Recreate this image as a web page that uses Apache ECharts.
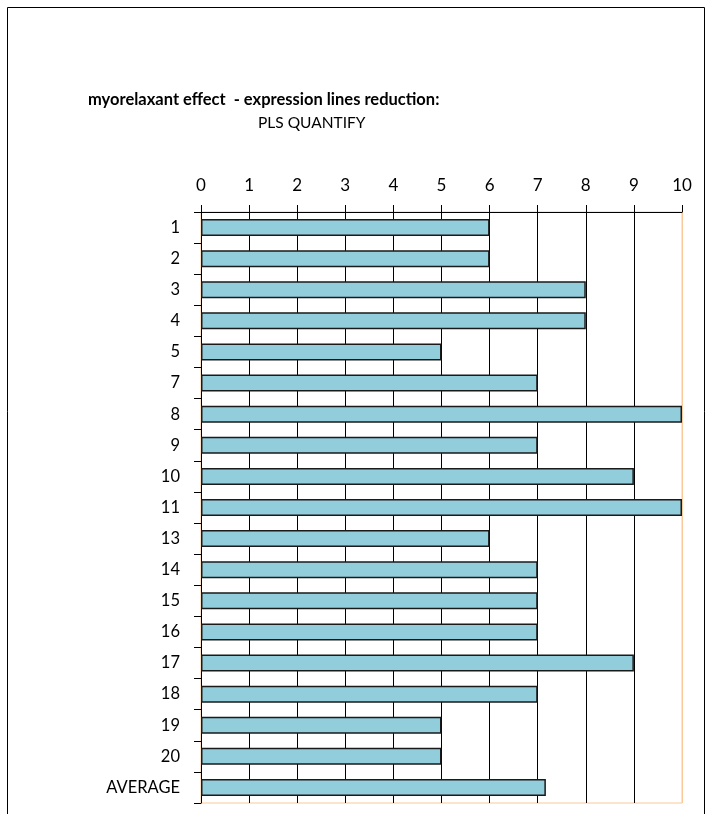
<!DOCTYPE html>
<html><head><meta charset="utf-8">
<script src="https://cdn.jsdelivr.net/npm/echarts@6/dist/echarts.min.js"></script>
<style>html,body{margin:0;padding:0;background:#fff}#c{width:707px;height:814px}</style>
</head><body><div id="c"></div>
<script>
const categories = ['1','2','3','4','5','7','8','9','10','11','13','14','15','16','17','18','19','20','AVERAGE'];
const values = [6,6,8,8,5,7,10,7,9,10,6,7,7,7,9,7,5,5,7.17];
const xTicks = [0,1,2,3,4,5,6,7,8,9,10];
const titleText = 'myorelaxant effect  - expression lines reduction:';
const subtitleText = 'PLS QUANTIFY';

const font = 'Lato, "Liberation Sans", sans-serif';
const chart = echarts.init(document.getElementById('c'), null, {renderer:'canvas'});
const splitColors = xTicks.map((t,i)=> i===xTicks.length-1 ? '#F9C89B' : '#000');
chart.setOption({
  animation:false,
  backgroundColor:'#fff',
  graphic:[{type:'rect', shape:{x:7.5,y:7.5,width:697,height:830}, style:{fill:'none',stroke:'#000',lineWidth:1}, z:-10}],
  title:[
    {text:titleText, left:88, top:91, textStyle:{fontFamily:font,fontWeight:'bold',fontSize:16.5,color:'#000'}, padding:0},
    {text:subtitleText, left:258, top:115, textStyle:{fontFamily:font,fontWeight:'normal',fontSize:15.5,color:'#000'}, padding:0}
  ],
  grid:{left:201, right:25, top:212, bottom:11, show:true, borderColor:'#F9C89B', borderWidth:1, backgroundColor:'transparent'},
  xAxis:{
    type:'value', position:'top', min:0, max:10, interval:1,
    axisLine:{show:true, lineStyle:{color:'#000', width:1}},
    axisTick:{show:true, length:7, lineStyle:{color:'#000'}},
    axisLabel:{show:true, margin:18, fontFamily:font, fontSize:17, color:'#000', formatter:(v)=>String(v)},
    splitLine:{show:true, lineStyle:{color:splitColors, width:1}}
  },
  yAxis:{
    type:'category', data:categories, inverse:true,
    axisLine:{show:true, lineStyle:{color:'#000', width:1}},
    axisTick:{show:true, length:7, lineStyle:{color:'#000'}},
    axisLabel:{margin:21, fontFamily:font, fontSize:16.5, color:'#000'},
    splitLine:{show:false}
  },
  series:[{
    type:'bar', data:values, barWidth:17,
    itemStyle:{color:'#92CDDC', borderColor:'#1a1a1a', borderWidth:1.5},
    z:5
  }]
});
</script></body></html>
